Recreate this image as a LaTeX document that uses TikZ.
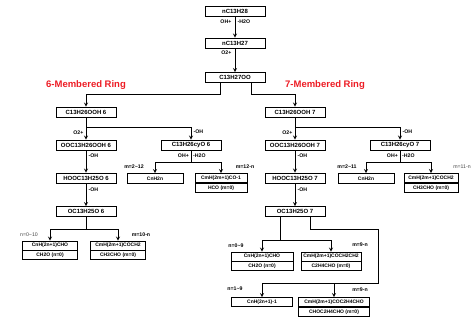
\documentclass[tikz,border=0pt]{standalone}
\usepackage{fontspec}
\setmainfont{Liberation Sans}
\usepackage{xcolor}
\usetikzlibrary{arrows.meta,positioning,shapes,calc}
\definecolor{ringred}{RGB}{237,28,36}
\definecolor{notegray}{RGB}{70,70,70}

\begin{document}
\begin{tikzpicture}[x=1pt, y=-1pt,
        box/.style={rectangle, draw, line width=0.8pt, minimum width=60pt, minimum height=10pt, inner sep=0pt, font=\fontsize{6}{7}\selectfont\bfseries},
        sbox/.style={box, minimum width=#1, minimum height=9pt, font=\fontsize{5}{6}\selectfont\bfseries},
        arrow/.style={->, >=stealth, line width=0.8pt},
        line/.style={line width=0.8pt},
        lab/.style={inner sep=0.5pt, font=\fontsize{5.2}{6}\selectfont\bfseries},
        note/.style={inner sep=0.5pt, text=notegray, font=\fontsize{5.2}{6}\selectfont},
        ring/.style={inner sep=0pt, text=ringred, font=\fontsize{9.5}{11}\selectfont\bfseries}
    ]
    \useasboundingbox (0,0) rectangle (476,324);
    % main chain
    \node[box] (c28) at (235,11.5) {nC13H28};
    \node[box] (c27) at (235,43) {nC13H27};
    \node[box] (roo) at (235,77.5) {C13H27OO};
    \draw[arrow] (c28) -- (c27);
    \draw[arrow] (c27) -- (roo);
    \node[lab, anchor=east] (oh1) at (232,22) {OH+};
    \node[lab, anchor=west] (wa1) at (237,22) {-H2O};
    \node[lab, anchor=east] (ox1) at (232,53) {O2+};
    \node[ring] (r6) at (86,85) {6-Membered Ring};
    \node[ring] (r7) at (325,85) {7-Membered Ring};
    \node[box] (q6) at (86,112) {C13H26OOH 6};
    \node[box] (q7) at (295,112) {C13H26OOH 7};
    \draw[arrow] ([xshift=-15pt]roo.south) -- ++(0,-11pt) -| (q6);
    \draw[arrow] ([xshift=16pt]roo.south) -- ++(0,-11pt) -| (q7);

    % 6-membered ring
    \node[box] (ooq6) at (86,145) {OOC13H26OOH 6};
    \node[box] (cyo6) at (191,145) {C13H26cyO 6};
    \coordinate (b6) at (86,127);
    \draw[arrow] (q6) -- (ooq6);
    \draw[arrow] (b6) -| (cyo6);
    \node[lab, anchor=east] (ox6) at (84,133) {O2+};
    \node[lab, anchor=west] (oh6) at (193,132) {-OH};
    \node[box] (hooc6) at (86,178) {HOOC13H25O 6};
    \draw[arrow] (ooq6) -- (hooc6);
    \node[lab, anchor=west] (oh6b) at (88,156) {-OH};
    \node[lab, anchor=east] (oh6c) at (189.5,156) {OH+};
    \node[lab, anchor=west] (wa6) at (192.5,156) {-H2O};
    \coordinate (f6) at (191,162);
    \node[sbox=56pt, minimum height=10pt] (alk6) at (155,178.5) {CnH2n};
    \node[sbox=52pt] (co6a) at (221,178) {CmH(2m+1)CO-1};
    \node[sbox=52pt, below=0pt of co6a] (co6b) {HCO (m=0)};
    \draw[line] (cyo6) -- (f6);
    \draw[arrow] (f6) -| (alk6);
    \draw[arrow] (f6) -| (co6a);
    \node[lab] (m6a) at (134,167) {m=2\textasciitilde12};
    \node[lab] (m6b) at (245,167) {m=12-n};
    \node[box] (oc6) at (86,211.5) {OC13H25O 6};
    \draw[arrow] (hooc6) -- (oc6);
    \node[lab, anchor=west] (oh6d) at (88,190) {-OH};
    \coordinate (g6) at (86,229);
    \node[sbox=55pt] (ald6a) at (50,245.5) {CnH(2n+1)CHO};
    \node[sbox=55pt, below=0pt of ald6a] (ald6b) {CH2O (n=0)};
    \node[sbox=55pt] (kco6a) at (118,245.5) {CmH(2m+1)COCH2};
    \node[sbox=55pt, below=0pt of kco6a] (kco6b) {CH3CHO (m=0)};
    \draw[line] (oc6) -- (g6);
    \draw[arrow] (g6) -| (ald6a);
    \draw[arrow] (g6) -| (kco6a);
    \node[note] (n6a) at (29,235) {n=0\textasciitilde10};
    \node[lab] (n6b) at (141,235) {m=10-n};

    % 7-membered ring
    \node[box] (ooq7) at (295,145) {OOC13H26OOH 7};
    \node[box] (cyo7) at (400,145) {C13H26cyO 7};
    \coordinate (b7) at (295,127);
    \draw[arrow] (q7) -- (ooq7);
    \draw[arrow] (b7) -| (cyo7);
    \node[lab, anchor=east] (ox7) at (293,133) {O2+};
    \node[lab, anchor=west] (oh7) at (402,132) {-OH};
    \node[box] (hooc7) at (295,178) {HOOC13H25O 7};
    \draw[arrow] (ooq7) -- (hooc7);
    \node[lab, anchor=west] (oh7b) at (297,156) {-OH};
    \node[lab, anchor=east] (oh7c) at (398.5,156) {OH+};
    \node[lab, anchor=west] (wa7) at (401.5,156) {-H2O};
    \coordinate (f7) at (400,162);
    \node[sbox=56pt, minimum height=10pt] (alk7) at (366,178.5) {CnH2n};
    \node[sbox=54pt] (kco7a) at (431,178) {CmH(2m+1)COCH2};
    \node[sbox=54pt, below=0pt of kco7a] (kco7b) {CH3CHO (m=0)};
    \draw[line] (cyo7) -- (f7);
    \draw[arrow] (f7) -| (alk7);
    \draw[arrow] (f7) -| (kco7a);
    \node[lab] (m7a) at (347,167) {m=2\textasciitilde11};
    \node[note] (m7b) at (462,167) {m=11-n};
    \node[box] (oc7) at (295,211.5) {OC13H25O 7};
    \draw[arrow] (hooc7) -- (oc7);
    \node[lab, anchor=west] (oh7d) at (297,190) {-OH};
    \coordinate (g7) at (280,240);
    \node[sbox=62pt] (ald7a) at (262,256.5) {CnH(2n+1)CHO};
    \node[sbox=62pt, below=0pt of ald7a] (ald7b) {CH2O (n=0)};
    \node[sbox=60pt] (kco7c) at (331,256.5) {CmH(2m+1)COCH2CH2};
    \node[sbox=60pt, below=0pt of kco7c] (kco7d) {C2H4CHO (m=0)};
    \draw[line] ([xshift=-15pt]oc7.south) -- (g7);
    \draw[arrow] (g7) -| (ald7a);
    \draw[arrow] (g7) -| (kco7c);
    \node[lab] (n7a) at (236,246) {n=0\textasciitilde9};
    \node[lab] (n7b) at (360,245) {m=9-n};
    \coordinate (h7a) at (378,229);
    \coordinate (h7b) at (378,283);
    \node[sbox=61pt] (alkyl7) at (262,302) {CnH(2n+1)-1};
    \node[sbox=71pt] (ket7a) at (334,302) {CmH(2m+1)COC2H4CHO};
    \node[sbox=71pt, below=0pt of ket7a] (ket7b) {CHOC2H4CHO (m=0)};
    \draw[arrow] ([xshift=15pt]oc7.south) |- (h7a) -- (h7b) -| (alkyl7);
    \draw[arrow] (h7b) -| (ket7a);
    \node[lab] (n7c) at (235,289) {n=1\textasciitilde9};
    \node[lab] (n7d) at (360,290) {m=9-n};
\end{tikzpicture}
\end{document}
